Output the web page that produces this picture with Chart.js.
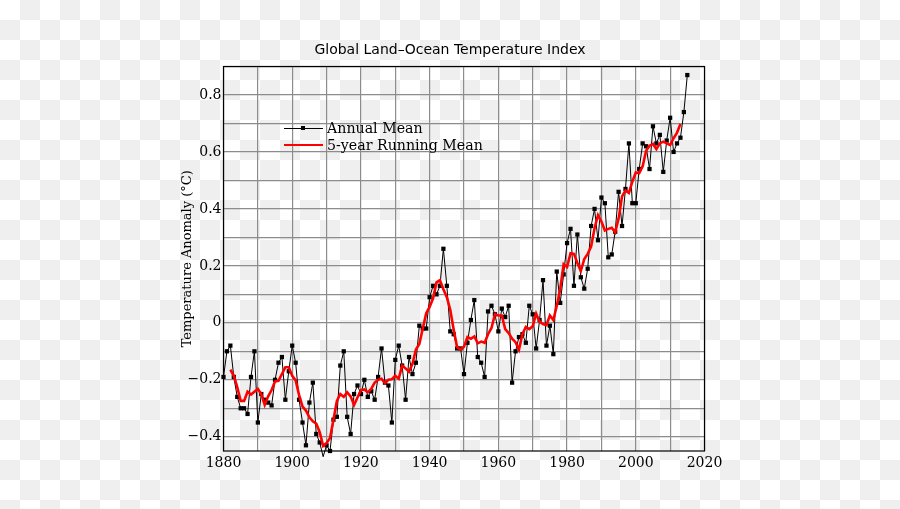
<!DOCTYPE html>
<html><head><meta charset="utf-8">
<script src="https://cdn.jsdelivr.net/npm/chart.js@4.4.1/dist/chart.umd.min.js"></script>
<style>
html,body{margin:0;padding:0;}
body{width:900px;height:509px;overflow:hidden;background-color:#fff;
background-image:conic-gradient(#efefef 25%, transparent 0 50%, #efefef 0 75%, transparent 0);
background-size:40px 40px;}
#wrap{position:relative;width:900px;height:509px;}
#c{position:absolute;left:0;top:0;}
.lg{position:absolute;font-family:'DejaVu Serif';font-size:14.2px;color:#000;line-height:16px;white-space:nowrap;}
.sw{position:absolute;}
</style></head><body>
<div id="wrap"><canvas id="c" width="900" height="509"></canvas><div id="legend"></div></div>
<script>
const years = [1880,1881,1882,1883,1884,1885,1886,1887,1888,1889,
1890,1891,1892,1893,1894,1895,1896,1897,1898,1899,
1900,1901,1902,1903,1904,1905,1906,1907,1908,1909,
1910,1911,1912,1913,1914,1915,1916,1917,1918,1919,
1920,1921,1922,1923,1924,1925,1926,1927,1928,1929,
1930,1931,1932,1933,1934,1935,1936,1937,1938,1939,
1940,1941,1942,1943,1944,1945,1946,1947,1948,1949,
1950,1951,1952,1953,1954,1955,1956,1957,1958,1959,
1960,1961,1962,1963,1964,1965,1966,1967,1968,1969,
1970,1971,1972,1973,1974,1975,1976,1977,1978,1979,
1980,1981,1982,1983,1984,1985,1986,1987,1988,1989,
1990,1991,1992,1993,1994,1995,1996,1997,1998,1999,
2000,2001,2002,2003,2004,2005,2006,2007,2008,2009,
2010,2011,2012,2013,2014,2015];

const annualMean = [
-0.19,-0.10,-0.08,-0.19,-0.26,-0.30,-0.30,-0.32,-0.19,-0.10,
-0.35,-0.25,-0.27,-0.28,-0.29,-0.20,-0.14,-0.12,-0.27,-0.17,
-0.08,-0.14,-0.27,-0.35,-0.43,-0.28,-0.21,-0.39,-0.42,-0.47,
-0.43,-0.45,-0.34,-0.33,-0.15,-0.10,-0.33,-0.39,-0.25,-0.22,
-0.25,-0.20,-0.26,-0.24,-0.27,-0.19,-0.09,-0.21,-0.22,-0.35,
-0.13,-0.08,-0.15,-0.27,-0.12,-0.18,-0.14,-0.01,-0.02,-0.02,
0.09,0.13,0.10,0.13,0.26,0.13,-0.03,-0.04,-0.09,-0.09,
-0.18,-0.07,0.01,0.08,-0.12,-0.14,-0.19,0.04,0.06,0.03,
-0.03,0.05,0.02,0.06,-0.21,-0.10,-0.05,-0.04,-0.07,0.06,
0.03,-0.09,0.01,0.15,-0.08,-0.01,-0.11,0.18,0.07,0.17,
0.28,0.33,0.13,0.31,0.16,0.12,0.19,0.34,0.40,0.29,
0.44,0.42,0.23,0.24,0.32,0.46,0.34,0.47,0.63,0.42,
0.42,0.54,0.63,0.62,0.54,0.69,0.63,0.66,0.53,0.64,
0.72,0.60,0.63,0.65,0.74,0.87];

// 5-year running mean, 1882 .. 2013
const runningYears = years.slice(2, 134);
const runningMean = [
-0.164,-0.186,-0.226,-0.274,-0.274,-0.242,-0.252,-0.242,
-0.232,-0.250,-0.288,-0.258,-0.236,-0.206,-0.204,-0.180,-0.156,-0.156,
-0.186,-0.202,-0.254,-0.294,-0.308,-0.332,-0.346,-0.354,-0.384,-0.432,
-0.422,-0.404,-0.340,-0.274,-0.250,-0.260,-0.244,-0.258,-0.288,-0.262,
-0.236,-0.234,-0.244,-0.232,-0.210,-0.200,-0.196,-0.212,-0.200,-0.198,
-0.186,-0.196,-0.150,-0.160,-0.172,-0.144,-0.094,-0.074,-0.020,0.034,
0.056,0.086,0.142,0.150,0.118,0.090,0.046,-0.024,-0.086,-0.094,
-0.084,-0.050,-0.056,-0.048,-0.072,-0.066,-0.070,-0.040,-0.018,0.030,
0.026,0.026,-0.022,-0.036,-0.056,-0.068,-0.094,-0.040,-0.014,-0.022,
-0.012,0.032,0.004,-0.004,-0.008,0.026,0.010,0.060,0.118,0.206,
0.196,0.244,0.242,0.210,0.182,0.224,0.242,0.268,0.332,0.378,
0.356,0.324,0.330,0.334,0.318,0.366,0.444,0.464,0.456,0.496,
0.528,0.526,0.550,0.604,0.622,0.628,0.610,0.630,0.636,0.630,
0.624,0.648,0.668,0.698];

const xGrid = [1880,1890,1900,1910,1920,1930,1940,1950,1960,1970,1980,1990,2000,2010,2020];
const xTickLabels = [1880,1900,1920,1940,1960,1980,2000,2020];
const yGrid = [-0.4,-0.3,-0.2,-0.1,0,0.1,0.2,0.3,0.4,0.5,0.6,0.7,0.8,0.9];
const yTickLabels = [-0.4,-0.2,0,0.2,0.4,0.6,0.8];

const fmtY = v => {
  const t = yTickLabels.find(t => Math.abs(t - v) < 1e-9);
  if (t === undefined) return '';
  return t < 0 ? '\u2212' + String(Math.abs(t)) : String(t);
};

const frame = {
  id: 'frame',
  beforeDatasetsDraw(chart) {
    const {ctx, chartArea: a} = chart;
    ctx.save();
    ctx.strokeStyle = '#000';
    ctx.lineWidth = 1.2;
    ctx.strokeRect(a.left, a.top, a.right - a.left, a.bottom - a.top);
    ctx.restore();
  }
};

const serif = 'DejaVu Serif';
const chart = new Chart(document.getElementById('c'), {
  type: 'line',
  data: {
    datasets: [
      {
        label: 'Annual Mean',
        data: years.map((y, i) => ({x: y, y: annualMean[i]})),
        borderColor: '#000', borderWidth: 1,
        pointStyle: 'rect', pointRadius: 3, pointBackgroundColor: '#000', pointBorderWidth: 0,
        tension: 0, clip: false, order: 2
      },
      {
        label: '5-year Running Mean',
        data: runningYears.map((y, i) => ({x: y, y: runningMean[i]})),
        borderColor: '#ff0000', borderWidth: 2.6, pointRadius: 0,
        tension: 0, clip: false, order: 1
      }
    ]
  },
  options: {
    responsive: false, animation: false, devicePixelRatio: 1,
    layout: {padding: {left: 170, right: 170, top: 42, bottom: 28}},
    plugins: {
      legend: {display: false},
      tooltip: {enabled: false},
      title: {
        display: true, text: 'Global Land\u2013Ocean Temperature Index',
        color: '#000', font: {family: 'DejaVu Sans', size: 14, weight: 'normal'},
        padding: {top: 0, bottom: 7.7}
      }
    },
    scales: {
      x: {
        type: 'linear', min: 1880, max: 2020,
        afterBuildTicks: s => { s.ticks = xGrid.map(v => ({value: v})); },
        afterFit: s => { s.height = 30; },
        grid: {color: '#8c8c8c', lineWidth: 1.2, drawTicks: false},
        border: {display: false},
        ticks: {padding: 4, color: '#000', font: {family: serif, size: 14}, maxRotation: 0, autoSkip: false,
          callback: v => xTickLabels.includes(v) ? String(v) : ''}
      },
      y: {
        type: 'linear', min: -0.45, max: 0.9,
        afterBuildTicks: s => { s.ticks = yGrid.map(v => ({value: v})); },
        afterFit: s => { s.width = 53.5; },
        grid: {color: '#8c8c8c', lineWidth: 1.2, drawTicks: false},
        border: {display: false},
        ticks: {padding: 2, color: '#000', font: {family: serif, size: 14}, autoSkip: false, callback: v => fmtY(v)},
        title: {display: true, text: 'Temperature Anomaly (\u00B0C)', color: '#000',
          font: {family: serif, size: 13}, padding: {top: 9.5, bottom: 0}}
      },
      y2: {
        position: 'right', display: true,
        grid: {display: false}, ticks: {display: false}, border: {display: false},
        afterFit: s => { s.width = 25.5; }
      }
    }
  },
  plugins: [frame]
});

// legend (inside plot area)
const lg = document.getElementById('legend');
const items = [
  {label: chart.data.datasets[0].label, color: '#000', h: 1, marker: true, y: 128},
  {label: chart.data.datasets[1].label, color: '#ff0000', h: 2.5, marker: false, y: 145}
];
items.forEach(it => {
  const line = document.createElement('div');
  line.className = 'sw';
  line.style.cssText = `left:284px;top:${it.y - it.h/2}px;width:39px;height:${it.h}px;background:${it.color};`;
  lg.appendChild(line);
  if (it.marker) {
    const m = document.createElement('div');
    m.className = 'sw';
    m.style.cssText = `left:301px;top:${it.y - 2}px;width:4px;height:4px;background:#000;`;
    lg.appendChild(m);
  }
  const t = document.createElement('div');
  t.className = 'lg';
  t.style.left = '327px';
  t.style.top = (it.y - 8) + 'px';
  t.textContent = it.label;
  lg.appendChild(t);
});
</script></body></html>
